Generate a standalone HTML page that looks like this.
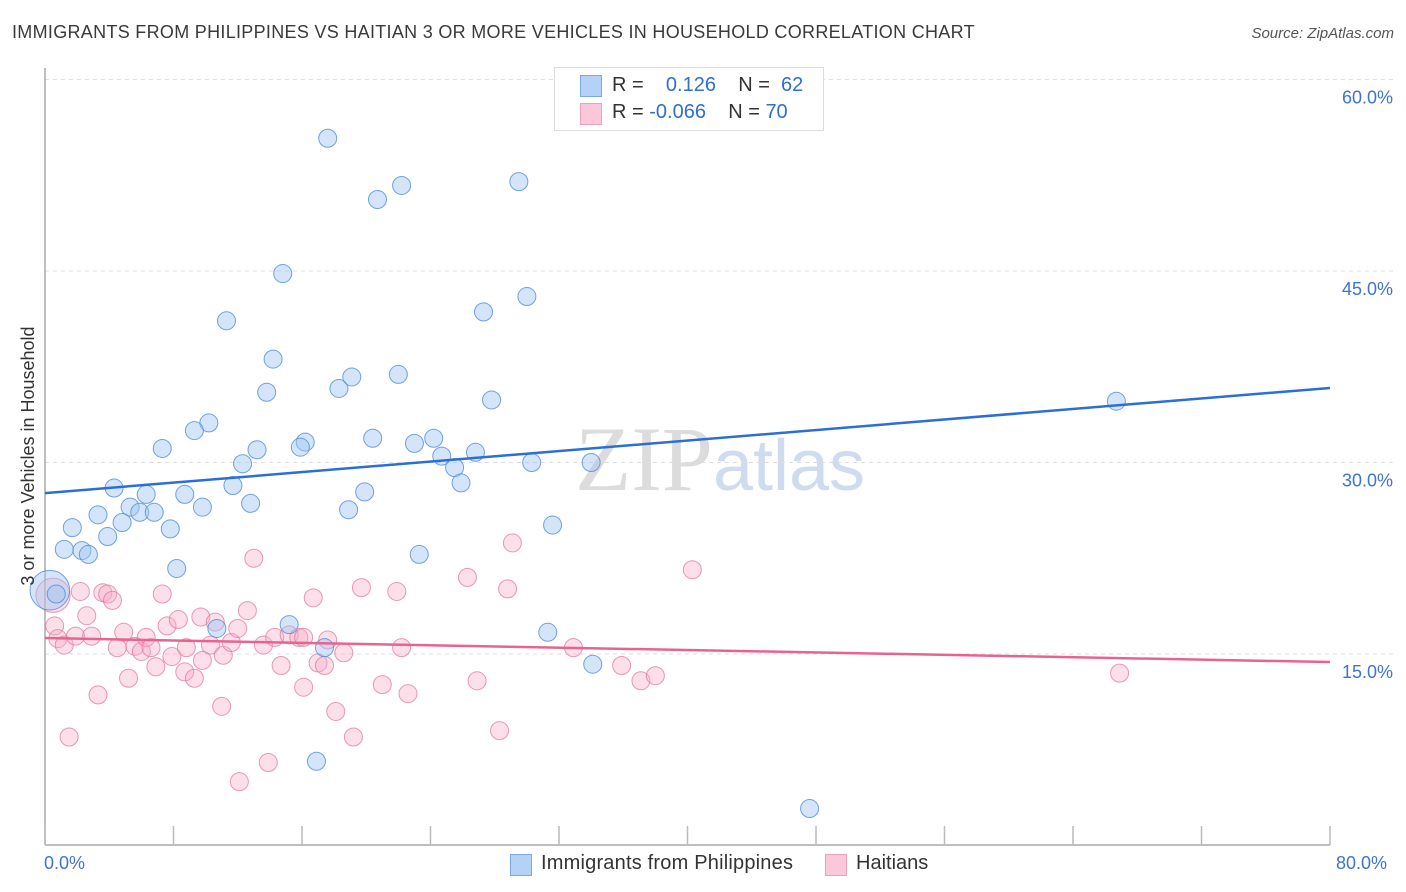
<!DOCTYPE html>
<html><head><meta charset="utf-8"><style>
body{margin:0;background:#fff;font-family:"Liberation Sans",sans-serif;}
#wrap{position:relative;width:1406px;height:892px;overflow:hidden;}
.t{position:absolute;white-space:nowrap;}
</style></head><body>
<div id="wrap">
<div class="t" style="left:12px;top:22px;font-size:18px;letter-spacing:0.3px;color:#3a3a3a;">IMMIGRANTS FROM PHILIPPINES VS HAITIAN 3 OR MORE VEHICLES IN HOUSEHOLD CORRELATION CHART</div>
<div class="t" style="right:12px;top:25px;font-size:15px;color:#555;font-style:italic;">Source: ZipAtlas.com</div>
<svg id="svg" width="1406" height="892" style="position:absolute;left:0;top:0">
<text x="720" y="490" text-anchor="middle" font-family="Liberation Serif,serif" font-size="92" fill="#dcdcdc">ZIP<tspan fill="#cfdcf0" font-family="Liberation Sans,sans-serif" font-size="72">atlas</tspan></text>
<g id="grid"></g><g id="axes"></g><g id="pts"></g><g id="lines"></g>
<text x="34" y="456" transform="rotate(-90 34 456)" text-anchor="middle" font-size="18" fill="#333">3 or more Vehicles in Household</text>
</svg>
<div style="position:absolute;left:554px;top:67px;width:268px;height:62px;border:1px solid #ddd;background:#fff;"></div>
<div style="position:absolute;left:580px;top:75px;width:20px;height:20px;background:#b4d2f6;border:1px solid #7aaae6;"></div>
<div style="position:absolute;left:580px;top:103px;width:20px;height:20px;background:#fac8d8;border:1px solid #eea0ba;"></div>
<div class="t" style="left:612px;top:74px;font-size:20px;color:#333;">R = &nbsp;&nbsp;&nbsp;<span style="color:#2e6fd4">0.126</span>&nbsp;&nbsp;&nbsp; N = &nbsp;<span style="color:#2e6fd4">62</span></div>
<div class="t" style="left:612px;top:101px;font-size:20px;color:#333;">R = <span style="color:#2e6fd4">-0.066</span>&nbsp;&nbsp;&nbsp; N = <span style="color:#2e6fd4">70</span></div>
<div style="position:absolute;left:510px;top:854px;width:20px;height:20px;background:#b4d2f6;border:1px solid #7aaae6;"></div>
<div class="t" style="left:541px;top:852px;font-size:20px;letter-spacing:0.2px;color:#333;">Immigrants from Philippines</div>
<div style="position:absolute;left:825px;top:854px;width:20px;height:20px;background:#fac8d8;border:1px solid #eea0ba;"></div>
<div class="t" style="left:856px;top:852px;font-size:20px;color:#333;">Haitians</div>
<div class="t" style="left:44px;top:853px;font-size:18px;color:#3d74d4;">0.0%</div>
<div class="t" style="left:1336px;top:853px;font-size:18px;color:#3d74d4;">80.0%</div>
</div>
<script>
const yTicks=[15,30,45,60];
const yTickLabels=["15.0%","30.0%","45.0%","60.0%"];
const xTicks=[0,8,16,24,32,40,48,56,64,72,80];
const blueX=[17.6,20.7,22.2,29.5,14.8,30.0,11.3,27.3,14.2,13.8,18.3,19.1,22.0,27.8,10.2,9.3,7.3,16.2,15.9,20.4,23.0,24.2,24.7,26.8,25.5,25.9,12.3,13.2,30.3,34.0,66.7,4.3,6.3,8.7,11.7,9.8,12.8,19.9,18.9,5.3,5.9,6.8,3.3,4.8,7.8,1.7,3.9,31.6,1.2,2.3,2.7,23.3,8.2,0.3,0.7,15.2,10.7,17.4,31.3,34.1,16.9,47.6];
const blueY=[55.4,50.6,51.7,52.0,44.8,43.0,41.1,41.8,38.1,35.5,35.8,36.7,36.9,34.9,33.1,32.5,31.1,31.6,31.2,31.9,31.5,31.9,30.5,30.8,29.6,28.4,29.9,31.0,30.0,30.0,34.8,28.0,27.5,27.5,28.2,26.5,26.8,27.7,26.3,26.5,26.1,26.1,25.9,25.3,24.8,24.9,24.2,25.1,23.2,23.1,22.8,22.8,21.7,20.0,19.7,17.3,17.0,15.5,16.7,14.2,6.6,2.9];
const blueSize=[1,1,1,1,1,1,1,1,1,1,1,1,1,1,1,1,1,1,1,1,1,1,1,1,1,1,1,1,1,1,1,1,1,1,1,1,1,1,1,1,1,1,1,1,1,1,1,1,1,1,1,1,1,2.2,1,1,1,1,1,1,1,1];
const pinkX=[0.5,2.2,3.6,3.9,4.2,7.3,2.6,0.6,0.8,1.2,1.9,2.9,4.9,4.5,5.6,6.0,6.3,6.6,7.6,8.3,6.9,7.9,8.7,9.3,8.8,9.7,10.6,10.3,9.8,11.1,11.6,12.0,12.6,13.0,13.6,14.3,15.2,15.8,16.1,16.7,17.6,18.6,17.0,17.4,14.7,16.1,18.1,19.7,21.9,22.2,21.0,22.6,5.2,3.3,11.0,1.5,19.2,12.1,13.9,26.3,29.1,28.8,26.9,28.3,32.9,35.9,37.1,38.0,40.3,66.9];
const pinkY=[19.6,19.9,19.8,19.7,19.2,19.7,18.0,17.2,16.2,15.7,16.4,16.4,16.7,15.5,15.6,15.2,16.3,15.5,17.2,17.7,14.0,14.8,13.6,13.1,15.5,17.9,17.5,15.7,14.5,14.9,15.9,17.0,18.4,22.5,15.7,16.3,16.5,16.3,16.3,19.4,16.1,15.1,14.3,14.1,14.1,12.4,10.5,20.2,19.9,15.5,12.6,11.9,13.1,11.8,10.9,8.5,8.5,5.0,6.5,21.0,23.7,20.1,12.9,9.0,15.5,14.1,12.9,13.3,21.6,13.5];
const pinkSize=[1.9,1,1,1,1,1,1,1,1,1,1,1,1,1,1,1,1,1,1,1,1,1,1,1,1,1,1,1,1,1,1,1,1,1,1,1,1,1,1,1,1,1,1,1,1,1,1,1,1,1,1,1,1,1,1,1,1,1,1,1,1,1,1,1,1,1,1,1,1,1];
const blueTrend=[27.6,35.84];
const pinkTrend=[16.25,14.37];
const X0=45,X1=1330,Y0=845.5,YSPAN=191.5/15;
const sx=v=>X0+(X1-X0)*v/80, sy=v=>Y0-v*YSPAN;
const NS="http://www.w3.org/2000/svg";
function mk(tag,attrs,parent){const e=document.createElementNS(NS,tag);for(const k in attrs)e.setAttribute(k,attrs[k]);document.getElementById(parent).appendChild(e);return e;}
yTicks.forEach((t,i)=>{
 const g=mk('line',{x1:45,x2:1393,y1:sy(t),y2:sy(t),stroke:'#ddd','stroke-dasharray':'4,4'},'grid');
 
 
 const tx=mk('text',{x:1393,y:sy(t)+24,'text-anchor':'end','font-size':18,fill:'#3d74d4'},'grid');
 tx.textContent=yTickLabels[i];
 
 
});
const ya=mk('line',{x1:45,x2:45,y1:68,y2:845,stroke:'#aaa','stroke-width':1.5},'axes');


const xa=mk('line',{x1:45,x2:1330,y1:845,y2:845,stroke:'#aaa','stroke-width':1.5},'axes');


xTicks.forEach(t=>{
 const l=mk('line',{x1:sx(t),x2:sx(t),y1:826,y2:845,stroke:'#bbb','stroke-width':1.5},'axes');
 
 
});
pinkX.forEach((v,i)=>{
 const c=mk('circle',{cx:sx(v),cy:sy(pinkY[i]),r:9*pinkSize[i],fill:'rgba(246,172,198,0.38)',stroke:'rgba(226,120,156,0.75)','stroke-width':1},'pts');
 
 
});
blueX.forEach((v,i)=>{
 const c=mk('circle',{cx:sx(v),cy:sy(blueY[i]),r:9*blueSize[i],fill:'rgba(160,198,242,0.45)',stroke:'rgba(80,140,220,0.8)','stroke-width':1},'pts');
 
 
});
const bl=mk('line',{x1:sx(0),y1:sy(blueTrend[0]),x2:sx(80),y2:sy(blueTrend[1]),stroke:'#2a6fd6','stroke-width':2.5},'lines');


const pl=mk('line',{x1:sx(0),y1:sy(pinkTrend[0]),x2:sx(80),y2:sy(pinkTrend[1]),stroke:'#e8648f','stroke-width':2.5},'lines');


</script>
</body></html>
